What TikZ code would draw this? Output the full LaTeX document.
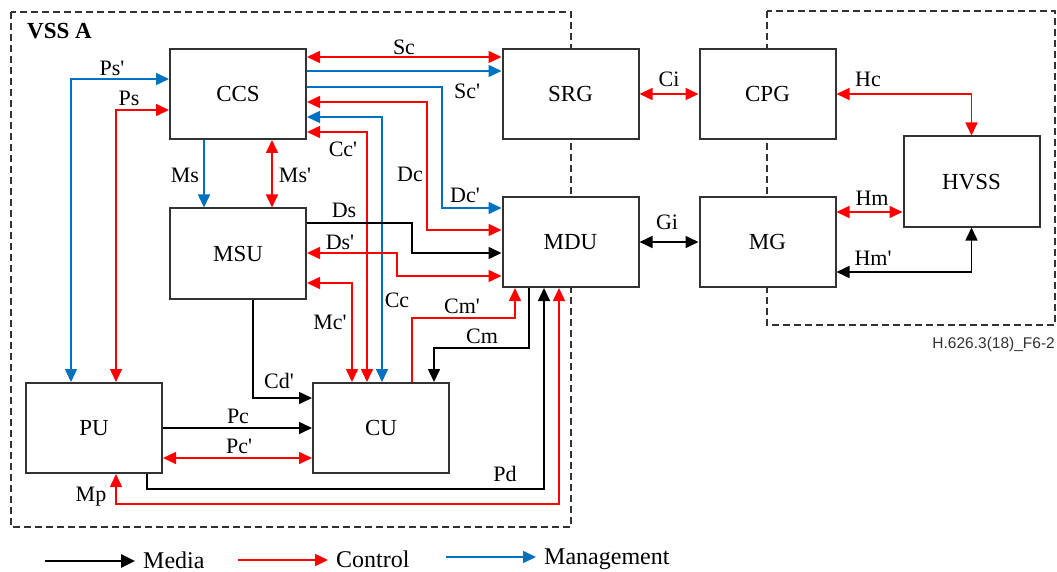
\documentclass[tikz,border=0pt]{standalone}
\usepackage{fontspec}
\setmainfont{Liberation Serif}
\newfontfamily\figsans{Liberation Sans}
\usetikzlibrary{arrows.meta}
\definecolor{cred}{RGB}{255,0,0}
\definecolor{cblue}{RGB}{0,112,192}
\definecolor{cbox}{RGB}{50,50,50}
\newcommand\ap{\textquotesingle}
\begin{document}
\begin{tikzpicture}[x=1pt,y=-1pt,
  blk/.style={draw=cbox, line width=2pt, fill=white, minimum width=136pt, minimum height=90pt,
    inner sep=0pt, font=\fontsize{23}{23}\selectfont, text height=15.2pt, text depth=0pt},
  lbl/.style={inner sep=0pt, font=\fontsize{22}{22}\selectfont, text height=14.5pt, text depth=0pt},
  leg/.style={inner sep=0pt, font=\fontsize{24}{24}\selectfont, text height=15.8pt, text depth=0pt, anchor=west},
  conn/.style={line width=1.6pt},
  med/.style={conn, draw=black},
  ctl/.style={conn, draw=cred},
  mgt/.style={conn, draw=cblue},
  frame/.style={draw=cbox, line width=1.4pt, dash pattern=on 7pt off 4pt},
  >={Triangle[length=13pt,width=12pt]}
]
\useasboundingbox (0,0) rectangle (1057,572);

% dashed domains
\draw[frame] (11,12) rectangle (571,527);
\draw[frame] (767,11) rectangle (1055,325);

% boxes
\node[blk] (CCS) at (238,94) {CCS};
\node[blk] (SRG) at (570.5,94) {SRG};
\node[blk] (CPG) at (767.5,94) {CPG};
\node[blk] (MSU) at (238,253.5) {MSU};
\node[blk] (MDU) at (570.5,242) {MDU};
\node[blk] (MG) at (767.5,242) {MG};
\node[blk] (HVSS) at (971.5,181.5) {HVSS};
\node[blk] (PU) at (94,428) {PU};
\node[blk] (CU) at (381,428) {CU};

\node[anchor=west, inner sep=0pt, font=\bfseries\fontsize{23}{23}\selectfont, text height=15.2pt, text depth=0pt] (vss) at (27,31) {VSS A};

% connectors
\draw[mgt,->] (CCS.east|-0,87) -| (442,208) -- (MDU.west|-0,208);
\draw[ctl,<->] (CCS.east|-0,102) -| (427,230) -- (MDU.west|-0,230);
\draw[mgt,<->] (CCS.east|-0,117) -| (CU.north -| 382,0);
\draw[ctl,<->] (CCS.east|-0,132) -| (CU.north -| 367,0);
\draw[med,->] (MSU.east|-0,223) -| (412,253) -- (MDU.west|-0,253);
\draw[ctl,<->] (MSU.east|-0,253) -| (397,276) -- (MDU.west|-0,276);
\draw[ctl,<->] (MSU.east|-0,283) -| (CU.north -| 352,0);
\draw[ctl,<->] (CCS.east|-0,57) -- (SRG.west|-0,57);
\draw[mgt,->] (CCS.east|-0,71) -- (SRG.west|-0,71);
\draw[mgt,->] (CCS.south -| 204,0) -- (MSU.north -| 204,0);
\draw[ctl,<->] (CCS.south -| 272,0) -- (MSU.north -| 272,0);
\draw[mgt,<->] (CCS.west|-0,79) -| (PU.north -| 71,0);
\draw[ctl,<->] (CCS.west|-0,110) -| (PU.north -| 116,0);
\draw[med,->] (MSU.south -| 253,0) |- (CU.west|-0,398);
\draw[med,->] (PU.east|-0,428) -- (CU.west|-0,428);
\draw[ctl,<->] (PU.east|-0,458) -- (CU.west|-0,458);
\draw[ctl,->] (CU.north -| 412,0) |- (515,318) -- (MDU.south -| 515,0);
\draw[med,->] (MDU.south -| 529,0) |- (434,348) -- (CU.north -| 434,0);
\draw[med,->] (PU.south -| 147,0) |- (544,489) -- (MDU.south -| 544,0);
\draw[ctl,<->] (MDU.south -| 559,0) |- (116,504) -- (PU.south -| 116,0);
\draw[ctl,<->] (SRG.east) -- (CPG.west);
\draw[med,<->] (MDU.east) -- (MG.west);
\draw[ctl,<->] (CPG.east) -| (HVSS.north);
\draw[ctl,<->] (MG.east|-0,212) -- (HVSS.west|-0,212);
\draw[med,<->] (MG.east|-0,272) -| (HVSS.south);

% labels
\node[lbl] (lPs1) at (112,68.5) {Ps\ap};
\node[lbl] (lPs) at (129,98) {Ps};
\node[lbl] (lSc) at (404,47) {Sc};
\node[lbl] (lSc1) at (467,91) {Sc\ap};
\node[lbl] (lCc1) at (343,149) {Cc\ap};
\node[lbl] (lDc) at (410,174) {Dc};
\node[lbl] (lDc1) at (465,195) {Dc\ap};
\node[lbl] (lMs) at (185,175) {Ms};
\node[lbl] (lMs1) at (295,175) {Ms\ap};
\node[lbl] (lDs) at (344,210) {Ds};
\node[lbl] (lDs1) at (340,242) {Ds\ap};
\node[lbl] (lCc) at (397,300) {Cc};
\node[lbl] (lMc1) at (330,322) {Mc\ap};
\node[lbl] (lCm1) at (462,306) {Cm\ap};
\node[lbl] (lCm) at (482,336) {Cm};
\node[lbl] (lCd1) at (279,381) {Cd\ap};
\node[lbl] (lPc) at (238,416) {Pc};
\node[lbl] (lPc1) at (239,446) {Pc\ap};
\node[lbl] (lPd) at (505,474) {Pd};
\node[lbl] (lMp) at (91,494) {Mp};
\node[lbl] (lCi) at (669,79) {Ci};
\node[lbl] (lGi) at (667,222) {Gi};
\node[lbl] (lHc) at (868,79) {Hc};
\node[lbl] (lHm) at (872,198) {Hm};
\node[lbl] (lHm1) at (873,258) {Hm\ap};

\node[anchor=east, inner sep=0pt, font=\figsans\fontsize{15.5}{15.5}\selectfont, text height=11pt, text depth=0pt, text=cbox] (fig) at (1055,343) {H.626.3(18)\_F6-2};

% legend
\coordinate (lma) at (45,561);
\coordinate (lmb) at (135,561);
\coordinate (lca) at (238,560);
\coordinate (lcb) at (328,560);
\coordinate (lga) at (446,557);
\coordinate (lgb) at (536,557);
\draw[med,-{Triangle[length=14pt,width=13pt]},line width=2.6pt] (lma) -- (lmb);
\draw[ctl,->] (lca) -- (lcb);
\draw[mgt,->] (lga) -- (lgb);
\node[leg] (lgm) at (143,561) {Media};
\node[leg] (lgc) at (336,560) {Control};
\node[leg] (lgg) at (544,557) {Management};
\end{tikzpicture}
\end{document}
